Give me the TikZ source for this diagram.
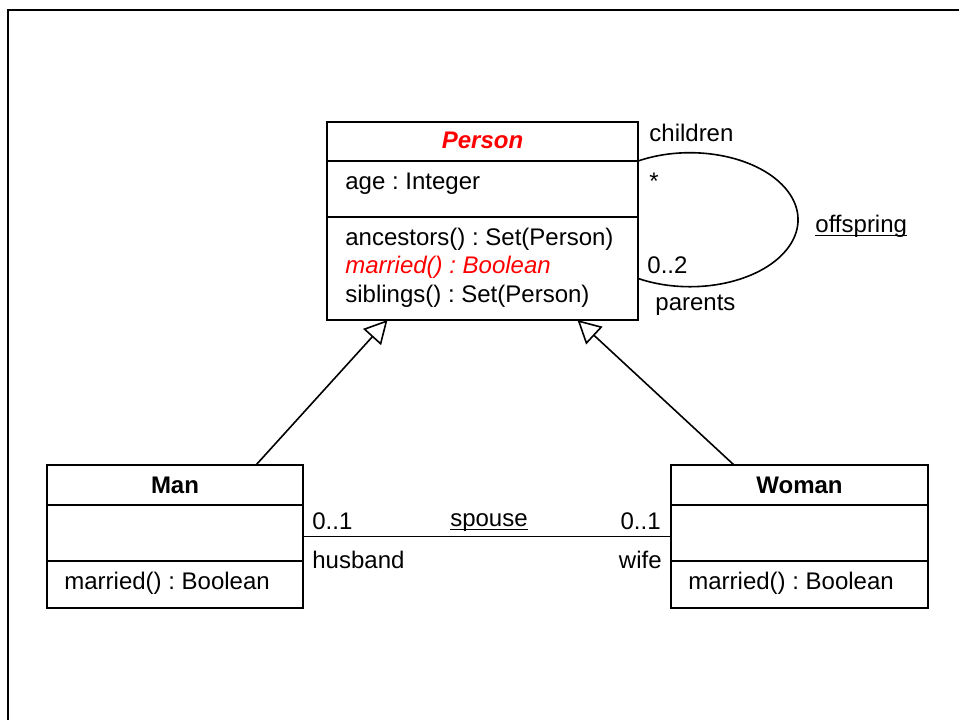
\documentclass[tikz,border=0pt]{standalone}
\usepackage{fontspec}
\setmainfont{Liberation Sans}
\usetikzlibrary{arrows.meta,calc}
\frenchspacing
% underline drawn just below the baseline, through descenders
\newcommand\umlu[1]{\setbox0\hbox{#1}\rlap{\vrule height -1.3pt depth 1.9pt width \wd0}#1}
\definecolor{umlred}{RGB}{255,0,0}
\begin{document}
\begin{tikzpicture}[x=0.5pt,y=-0.5pt,
  classbox/.style={draw,line width=1pt,inner sep=0pt,outer sep=0pt},
  divider/.style={line width=1pt},
  txt/.style={inner sep=0pt,font=\fontsize{12}{14}\selectfont},
  lbl/.style={txt,anchor=base west},
  lblr/.style={txt,anchor=base east},
  title/.style={txt,anchor=base,font=\fontsize{12}{14}\selectfont\bfseries},
  assoc/.style={line width=0.8pt},
  gen/.style={line width=0.8pt,-{Triangle[open,length=11.5pt,width=12pt,line width=0.8pt]}}]
\useasboundingbox (0,0) rectangle (959,719);
\clip (0,0) rectangle (959,719);

% outer frame
\draw[line width=1pt] (8,740) -- (8,10) -- (980,10);

% class Person
\node[classbox,minimum width=155.5pt,minimum height=99pt] (Person) at (482.5,221) {};
\draw[divider] ($(Person.north west)+(0,39)$) -- ($(Person.north east)+(0,39)$);
\draw[divider] ($(Person.north west)+(0,95)$) -- ($(Person.north east)+(0,95)$);
\node[title,text=umlred,font=\fontsize{12}{14}\selectfont\bfseries\itshape] (pname) at (482.5,148) {Person};
\node[lbl] (page) at (345,189) {age : Integer};
\node[lbl] (panc) at (345,245) {ancestors() : Set(Person)};
\node[lbl,text=umlred,font=\fontsize{12}{14}\selectfont\itshape] (pmar) at (345,273) {married() : Boolean};
\node[lbl] (psib) at (345,302) {siblings() : Set(Person)};

% class Man
\node[classbox,minimum width=128pt,minimum height=71.5pt] (Man) at (175,536.5) {};
\draw[divider] ($(Man.north west)+(0,40)$) -- ($(Man.north east)+(0,40)$);
\draw[divider] ($(Man.north west)+(0,96)$) -- ($(Man.north east)+(0,96)$);
\node[title] (mname) at (175,493) {Man};
\node[lbl] (mmar) at (64,589) {married() : Boolean};

% class Woman
\node[classbox,minimum width=128.5pt,minimum height=71.5pt] (Woman) at (799.5,536.5) {};
\draw[divider] ($(Woman.north west)+(0,40)$) -- ($(Woman.north east)+(0,40)$);
\draw[divider] ($(Woman.north west)+(0,96)$) -- ($(Woman.north east)+(0,96)$);
\node[title] (wname) at (799.5,493) {Woman};
\node[lbl] (wmar) at (688,589) {married() : Boolean};

% self association offspring
\draw[assoc] ($(Person.north east)+(0,39)$)
  arc[start angle=-118.8,end angle=118.8,x radius=108,y radius=67];
\node[lbl] (children) at (649,141) {children};
\node[lbl] (many) at (649,189) {*};
\node[lbl] (zerotwo) at (647,273) {0..2};
\node[lbl] (parents) at (655,310) {parents};
\node[lbl] (offspring) at (815,232) {\umlu{offspring}};

% association spouse
\draw[assoc] (Man) -- (Woman);
\node[lbl] (hmult) at (312,529) {0..1};
\node[lbl] (husband) at (312,568) {husband};
\node[txt,anchor=base] (spouse) at (489,526) {\umlu{spouse}};
\node[lblr] (wmult) at (661,529) {0..1};
\node[lblr] (wife) at (662,568) {wife};

% generalizations
\draw[gen] ($(Man.north)+(81,0)$) -- ($(Person.south)+(-95,0)$);
\draw[gen] ($(Woman.north)+(-65.5,0)$) -- ($(Person.south)+(95,0)$);
\end{tikzpicture}
\end{document}
